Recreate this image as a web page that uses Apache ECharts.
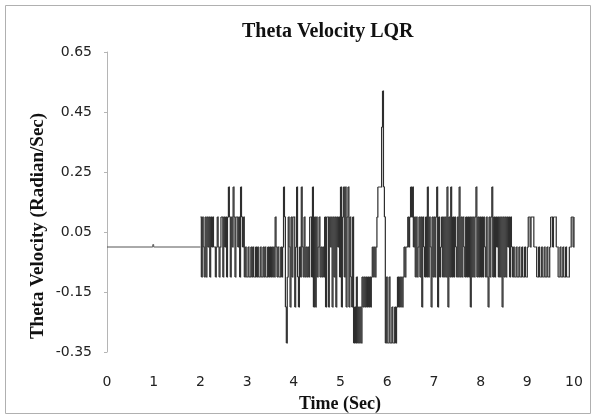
<!DOCTYPE html>
<html>
<head>
<meta charset="utf-8">
<script src="https://cdn.jsdelivr.net/npm/echarts@6.0.0/dist/echarts.min.js"></script>
<style>
html, body { margin: 0; padding: 0; background: #fff; }
#main { width: 593px; height: 419px; }
</style>
</head>
<body>
<div id="main"></div>
<script>
// quiet part before the controller starts switching (tiny blip near 1 s)
var quietTimes = [0, 0.98, 1.0, 2.0];
var quietValues = [0, 0.008, 0, 0];

// sample-and-hold values, one every 0.02 s, one array per second
var sampleStep = 0.02;
var sec2 = [0.1,-0.1,0.1,0,-0.1,0.1,-0.1,0.1,0,0.1,-0.1,0.1,0,
  0.1,0,0,-0.1,0,0.1,0,-0.1,0,0.1,
  0.1,-0.1,0.1,0,0.1,-0.1,0.1,0.2,0.1,-0.1,0.1,0,0.2,0.1,-0.1,0.1,0.1,0,0.1,-0.1,0.2,0.1,0,0.1,-0.1,0,-0.1];
var sec3 = [-0.1,0,-0.1,-0.1,0,-0.1,0,-0.1,-0.1,0,-0.1,0,-0.1,-0.1,0,-0.1,-0.1,0,-0.1,0,-0.1,-0.1,0,-0.1,0,
  -0.1,0,-0.1,0,-0.1,0.1,0,-0.1,0,-0.1,-0.1,0,-0.1,0,0.2,0.1,-0.2,-0.32,-0.1,0.1,0,-0.2,0.1,-0.1,0.1];
var sec4 = [0.1,-0.2,0,0.2,-0.1,-0.2,0,-0.1,0.2,0,-0.1,0.1,-0.1,0,-0.1,0,-0.1,0.1,0.1,-0.1,
  0.2,-0.2,0.1,-0.2,0.1,-0.1,0,0.1,-0.1,0,-0.1,0,-0.1,0.1,-0.2,0.1,0.1,-0.2,0.1,0,
  0.1,-0.2,0.1,-0.1,0.1,-0.2,0.1,0,0.1,-0.1];
var sec5 = [0.2,-0.2,0.1,0.2,-0.1,0.2,-0.2,0.1,0.2,-0.2,0.1,-0.1,-0.2,0.1,-0.32,-0.2,-0.32,-0.1,-0.32,-0.2,
  -0.32,-0.2,-0.32,-0.1,-0.2,-0.1,-0.2,-0.1,-0.2,-0.1,-0.2,-0.1,-0.2,-0.1,0,-0.1,0,-0.1,0,0.1,
  0.2,0.2,0.2,0.2,0.4,0.52,0.2,0.1,-0.32,-0.1];
var sec6 = [-0.32,-0.32,-0.1,-0.32,-0.32,-0.2,-0.32,-0.32,-0.2,-0.32,-0.2,-0.1,-0.2,-0.1,-0.2,-0.1,-0.2,-0.1,0,-0.1,
  0,0,0.1,0,0.1,0.2,0.1,0.2,0,0.1,-0.1,0.1,-0.1,0,0.1,-0.1,0.1,-0.2,0.1,0,
  -0.1,0.1,-0.1,0.2,-0.1,0.1,0,-0.2,0.1,-0.1];
var sec7 = [0.1,-0.1,0.1,0.2,-0.2,0.1,-0.1,0,0.1,-0.1,0.1,-0.1,0.1,-0.1,0.2,-0.2,0.1,-0.1,0.2,-0.1,
  0.1,-0.1,0.1,0,-0.1,0.1,-0.1,0.2,-0.1,0.1,-0.1,0.1,0,-0.1,0.1,-0.1,0.1,-0.1,0.1,-0.2,
  0.1,-0.1,0.1,-0.1,0.1,0.2,-0.1,0.1,-0.1,0.1];
var sec8 = [-0.1,0.1,-0.1,0.1,0,-0.1,0.1,-0.1,-0.2,0.1,-0.1,0.1,0.2,-0.1,0.1,-0.1,0.1,0,0.1,-0.1,
  0.1,-0.1,0.1,-0.2,0.1,-0.1,0.1,-0.1,0.1,0,0.1,-0.1,0.1,0,-0.1,0,-0.1,-0.1,0,-0.1,
  -0.1,0,-0.1,-0.1,0,-0.1,-0.1,0,-0.1,-0.1];
var sec9 = [0,0.1,0.1,0,0.1,0.1,0.1,0,0,0,-0.1,-0.1,0,-0.1,-0.1,0,-0.1,-0.1,0,-0.1,
  -0.1,0,-0.1,-0.1,0,0.1,0.1,0,0.1,0.1,0.1,0,0,-0.1,-0.1,0,-0.1,-0.1,0,-0.1,
  -0.1,0,-0.1,-0.1,-0.1,0,0,0.1,0.1,0];
var endValue = 0.1;

var xTicks = [0, 10, 1];
var yTicks = [-0.35, 0.65, 0.2];

var quietData = [];
for (var q = 0; q < quietTimes.length; q++) quietData.push([quietTimes[q], quietValues[q]]);

var seconds = [sec2, sec3, sec4, sec5, sec6, sec7, sec8, sec9];
var activeData = [];
for (var k = 0; k < seconds.length; k++) {
  for (var i = 0; i < seconds[k].length; i++) {
    var t = Math.round((k + 2 + i * sampleStep) * 100) / 100;
    activeData.push([t, seconds[k][i]]);
  }
}
activeData.push([10, endValue]);

// draws one hold segment + the riser to the next sample
// (a plain line series drops the sub-2px horizontal pieces)
function stepItem(list, color, width) {
  return function (params, api) {
    var cur = list[params.dataIndex];
    var next = list[params.dataIndex + 1];
    if (!next) return null;
    var a = api.coord([cur[0], cur[1]]);
    var b = api.coord([next[0], cur[1]]);
    var c = api.coord([next[0], next[1]]);
    return {
      type: 'polyline',
      shape: { points: [a, b, c] },
      style: { stroke: color, lineWidth: width, fill: null }
    };
  };
}

var chart = echarts.init(document.getElementById('main'), null, { renderer: 'canvas' });

var option = {
  backgroundColor: '#ffffff',
  animation: false,
  title: {
    text: 'Theta Velocity LQR',
    left: 242,
    top: 22,
    padding: 0,
    textStyle: { fontFamily: 'Liberation Serif', fontWeight: 'bold', fontSize: 20, color: '#111' }
  },
  grid: { left: 107, right: 19, top: 52, bottom: 67 },
  xAxis: {
    type: 'value',
    min: xTicks[0], max: xTicks[1], interval: xTicks[2],
    axisLine: { show: false },
    axisTick: { show: false },
    splitLine: { show: false },
    axisLabel: { margin: 23, fontFamily: 'DejaVu Sans', fontSize: 14, color: '#222' }
  },
  yAxis: {
    type: 'value',
    min: yTicks[0], max: yTicks[1], interval: yTicks[2],
    axisLine: { show: true, lineStyle: { color: '#b5b5b5', width: 1 } },
    axisTick: { show: true, length: 3, lineStyle: { color: '#b5b5b5' } },
    splitLine: { show: false },
    axisLabel: {
      margin: 15, fontFamily: 'DejaVu Sans', fontSize: 14, color: '#222',
      formatter: function (v) { return v.toFixed(2); }
    }
  },
  series: [
    {
      type: 'custom',
      data: quietData,
      encode: { x: 0, y: 1 },
      renderItem: stepItem(quietData, '#555555', 1)
    },
    {
      type: 'custom',
      data: activeData,
      encode: { x: 0, y: 1 },
      renderItem: stepItem(activeData, '#2e2e2e', 1.2)
    }
  ],
  graphic: [
    {
      type: 'rect',
      shape: { x: 5.5, y: 5.5, width: 585, height: 408 },
      style: { fill: null, stroke: '#b0b0b0', lineWidth: 1 }
    },
    {
      type: 'text',
      x: 38, y: 226,
      rotation: Math.PI / 2,
      style: {
        text: 'Theta Velocity (Radian/Sec)',
        fontFamily: 'Liberation Serif', fontWeight: 'bold', fontSize: 19,
        fill: '#111', textAlign: 'center', textVerticalAlign: 'middle'
      }
    },
    {
      type: 'text',
      x: 340, y: 404,
      style: {
        text: 'Time (Sec)',
        fontFamily: 'Liberation Serif', fontWeight: 'bold', fontSize: 18,
        fill: '#111', textAlign: 'center', textVerticalAlign: 'middle'
      }
    }
  ]
};

chart.setOption(option);
</script>
</body>
</html>
